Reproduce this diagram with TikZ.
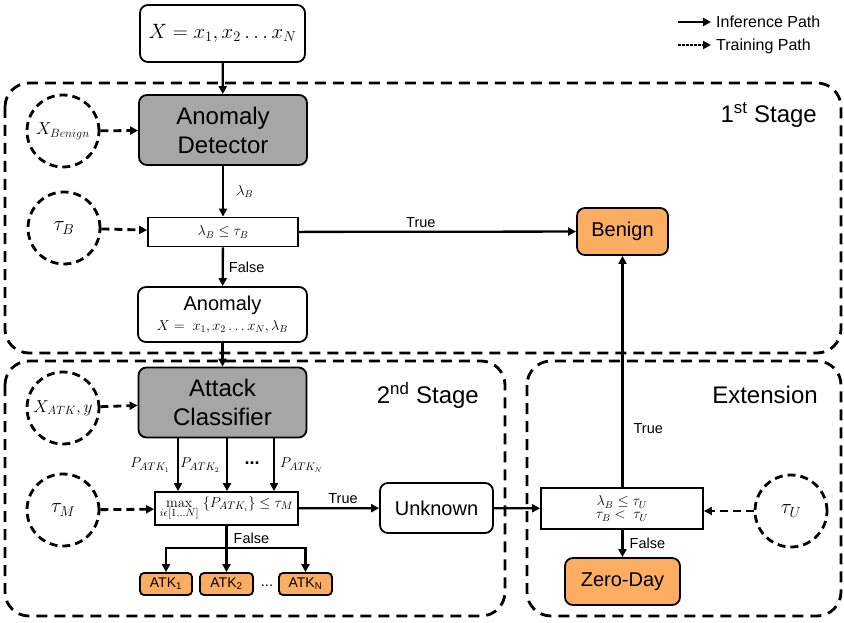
\documentclass[tikz,border=0pt]{standalone}
\usepackage[no-math]{fontspec}
\setmainfont{Liberation Sans}
\usetikzlibrary{arrows.meta}
\definecolor{boxgray}{HTML}{A6A6A6}
\definecolor{boxorange}{HTML}{FBAD61}
\tikzset{
  frame/.style={draw, line width=2.8pt, dash pattern=on 11pt off 7pt, rounded corners=24pt},
  rbox/.style={draw, line width=1.8pt, rounded corners=8pt, inner sep=0pt, align=center},
  graybox/.style={rbox, fill=boxgray, font=\fontsize{24}{29}\selectfont, minimum width=168pt, minimum height=70pt},
  orangebox/.style={rbox, fill=boxorange, font=\fontsize{20}{24}\selectfont},
  atkbox/.style={rbox, fill=boxorange, rounded corners=4pt, font=\fontsize{14}{16}\selectfont, minimum width=53pt, minimum height=22pt},
  condbox/.style={draw, line width=1.8pt, inner sep=0pt, align=center, fill=white},
  tcircle/.style={draw, circle, line width=2.8pt, dash pattern=on 8pt off 5pt, minimum size=72pt, inner sep=0pt, font=\fontsize{18}{20}\selectfont},
  arr/.style={line width=2.3pt, -{Triangle[length=8pt,width=8pt]}},
  plainline/.style={line width=2.3pt},
  darr/.style={line width=2.8pt, dash pattern=on 8pt off 5pt, -{Triangle[length=8pt,width=8pt]}},
  dotarr/.style={line width=2.8pt, dash pattern=on 2.5pt off 1.5pt, -{Triangle[length=8pt,width=8pt]}},
  lbl/.style={font=\fontsize{14.5}{16}\selectfont, inner sep=1pt},
  stagelbl/.style={font=\fontsize{24}{28}\selectfont, inner sep=0pt},
  plbl/.style={font=\fontsize{15}{17}\selectfont, inner sep=0pt},
}
\begin{document}
\begin{tikzpicture}[x=1pt,y=-1pt]
\useasboundingbox (0,0) rectangle (844,623);

% frames
\draw[frame] (5,83) rectangle (841,353);
\draw[frame] (5,361) rectangle (505,616);
\draw[frame] (527,361) rectangle (841,616);

\node[stagelbl, anchor=east] (s1) at (817,115) {1\textsuperscript{st} Stage};
\node[stagelbl, anchor=east] (s2) at (479,395) {2\textsuperscript{nd} Stage};
\node[stagelbl] (s3) at (765,395) {Extension};

% legend
\coordinate (lg1a) at (678,22);
\coordinate (lg1b) at (711,22);
\coordinate (lg2a) at (678,45);
\coordinate (lg2b) at (711,45);
\draw[arr] (lg1a) -- (lg1b);
\draw[dotarr] (lg2a) -- (lg2b);
\node[lbl, anchor=west, font=\fontsize{16}{18}\selectfont] (lgt1) at (715,22) {Inference Path};
\node[lbl, anchor=west, font=\fontsize{16}{18}\selectfont] (lgt2) at (715,46) {Training Path};

% stage 1
\node[rbox, minimum width=165pt, minimum height=57pt, font=\fontsize{20}{24}\selectfont] (inp) at (222.5,33.5) {$X = x_1, x_2 \dots x_N$};
\node[graybox] (ad) at (223,130) {Anomaly\\Detector};
\node[tcircle] (xb) at (63,131) {$X_{Benign}$};
\node[tcircle, font=\fontsize{22}{24}\selectfont] (tb) at (64,228) {$\tau_B$};
\node[condbox, minimum width=150pt, minimum height=29pt, font=\fontsize{14}{16}\selectfont] (c1) at (223,232) {$\lambda_B \le \tau_B$};
\node[rbox, fill=white, minimum width=169pt, minimum height=55pt, font=\fontsize{20}{22}\selectfont] (an) at (222.5,314.5) {Anomaly\\[-2pt]{\fontsize{14}{16}\selectfont $X =\ x_1, x_2 \dots x_N, \lambda_B$}};
\node[orangebox, minimum width=91pt, minimum height=47pt] (bn) at (622.5,231.5) {Benign};

\draw[arr] (inp) -- (ad);
\draw[darr] (xb) -- (ad);
\draw[darr] (tb) -- (c1);
\draw[arr] (ad) -- node[right, xshift=9pt, font=\fontsize{14}{16}\selectfont] {$\lambda_B$} (c1);
\draw[arr] (c1) -- node[lbl, right, xshift=4pt, yshift=-1pt] {False} (an);
\draw[arr] (c1) -- node[lbl, above, pos=0.44, yshift=2pt] {True} (bn);

% stage 2
\node[graybox] (ac) at (222.5,402.5) {Attack\\Classifier};
\node[tcircle] (xa) at (63,408) {$X_{ATK},y$};
\node[tcircle, font=\fontsize{22}{24}\selectfont] (tm) at (63,510) {$\tau_M$};
\node[condbox, minimum width=143pt, minimum height=33pt, font=\fontsize{15}{17}\selectfont] (mx) at (226.5,508.5) {$\max\limits_{\lower1.5pt\hbox{$\scriptstyle i\epsilon[1\ldots N]$}}\;\{P_{ATK_i}\} \le \tau_M$};
\node[rbox, fill=white, minimum width=113pt, minimum height=50pt, font=\fontsize{20}{24}\selectfont] (un) at (436.5,508) {Unknown};
\node[atkbox, minimum width=52pt] (k1) at (166,584) {ATK\textsubscript{1}};
\node[atkbox] (k2) at (226.5,584) {ATK\textsubscript{2}};
\node[atkbox] (kn) at (305.5,584) {ATK\textsubscript{N}};
\node[lbl] (kd) at (267,586) {...};

\draw[arr] (an) -- (ac);
\draw[darr] (xa) -- (ac);
\draw[darr] (tm) -- (mx);

\coordinate (p1) at (178,0);
\coordinate (p2) at (227,0);
\coordinate (p3) at (274,0);
\draw[arr] (ac.south -| p1) -- (mx.north -| p1);
\draw[arr] (ac.south -| p2) -- (mx.north -| p2);
\draw[arr] (ac.south -| p3) -- (mx.north -| p3);
\node[plbl, anchor=east] (pl1) at (170,465) {$P_{ATK_1}$};
\node[plbl, anchor=east] (pl2) at (220,465) {$P_{ATK_2}$};
\node[font=\fontsize{18}{20}\selectfont\bfseries, inner sep=0pt] (pld) at (252,463) {...};
\node[plbl, anchor=west] (pln) at (280,465) {$P_{ATK_N}$};

\draw[arr] (mx) -- node[lbl, above, pos=0.55, yshift=2pt] {True} (un);
\coordinate (br) at (226.5,548);
\draw[plainline] (mx.south) -- node[lbl, right, xshift=5pt, pos=0.55] {False} (br);
\draw[arr] (br) -| (k1.north);
\draw[arr] (br) -| (kn.north);
\draw[arr] (br) -- (k2.north);

% extension
\node[condbox, minimum width=162pt, minimum height=41pt, font=\fontsize{14}{16}\selectfont] (c3) at (622,508.5) {$\lambda_B \le \tau_U$\\[-3pt]$\tau_B < \ \tau_U$};
\node[tcircle, font=\fontsize{22}{24}\selectfont] (tu) at (791,511) {$\tau_U$};
\node[orangebox, minimum width=115pt, minimum height=47pt] (zd) at (622.5,581.5) {Zero-Day};

\draw[arr] (un) -- (c3);
\draw[darr] (tu) -- (c3.east |- tu);
\draw[arr] (c3.north -| bn) -- node[lbl, right, xshift=9pt, pos=0.255] {True} (bn);
\draw[arr] (c3.south -| zd) -- node[lbl, right, xshift=5pt] {False} (zd);
\end{tikzpicture}
\end{document}
